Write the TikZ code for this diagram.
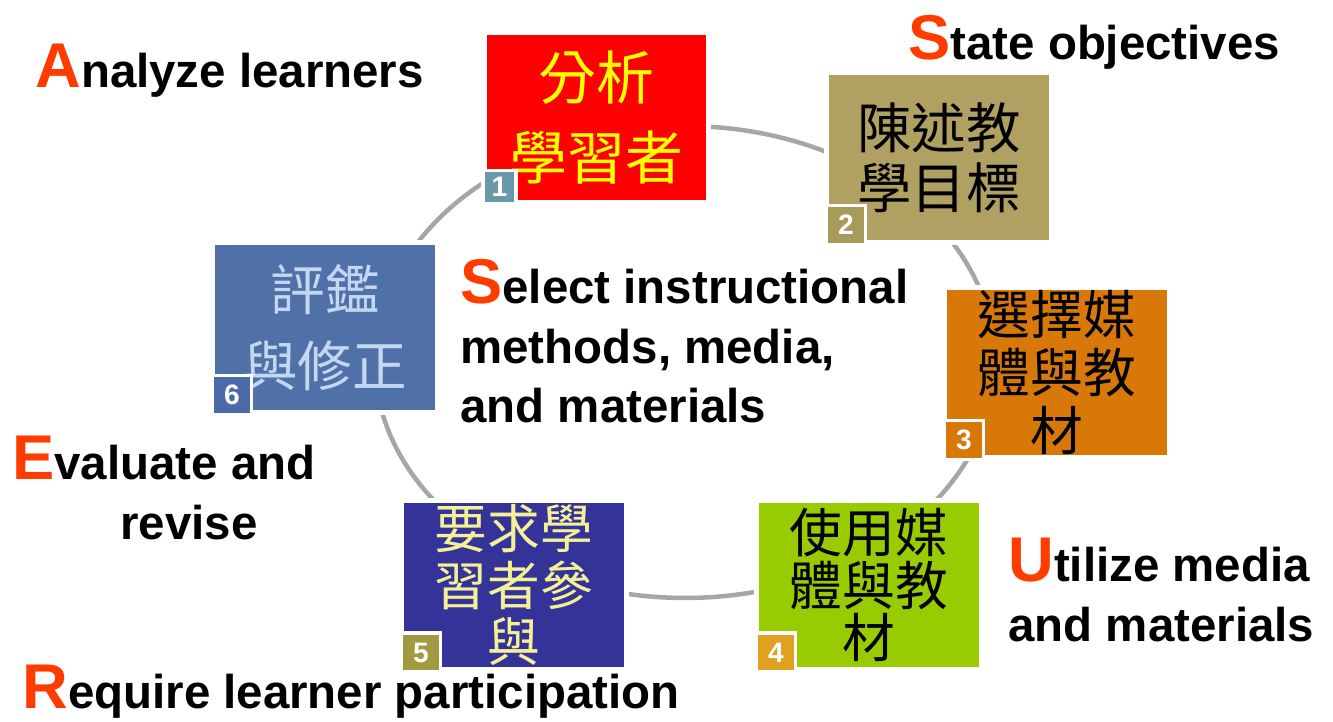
\documentclass[tikz,border=0pt]{standalone}
\usepackage{fontspec}
\setmainfont{Liberation Sans}
\newfontfamily\cjk{Noto Sans CJK TC}
\definecolor{initred}{RGB}{255,60,0}
\definecolor{ringgray}{RGB}{166,166,166}
\definecolor{boxred}{RGB}{255,0,0}
\definecolor{boxkhaki}{RGB}{176,160,98}
\definecolor{boxorange}{RGB}{216,120,8}
\definecolor{boxgreen}{RGB}{153,204,0}
\definecolor{boxnavy}{RGB}{51,51,153}
\definecolor{boxblue}{RGB}{80,112,168}
\definecolor{txtyellow}{RGB}{255,255,0}
\definecolor{txtcream}{RGB}{245,240,150}
\definecolor{txtlight}{RGB}{195,215,240}
\definecolor{badgeteal}{RGB}{106,154,170}
\definecolor{badgekhaki}{RGB}{168,154,90}
\definecolor{badgegold}{RGB}{224,160,32}
\definecolor{badgeolive}{RGB}{160,154,64}
\definecolor{badgeblue}{RGB}{74,106,168}
\newcommand{\firstletter}[1]{{\fontsize{36}{36}\selectfont\color{initred}#1}}

\begin{document}
\begin{tikzpicture}[x=0.02cm, y=-0.02cm,
    box/.style={rectangle, draw=white, line width=0.1cm, minimum width=4.5cm,
        minimum height=3.4cm, inner sep=0pt, align=center,
        font=\cjk\fontsize{31}{34}\selectfont},
    badge/.style={rectangle, draw=white, line width=0.07cm, minimum size=0.78cm,
        inner sep=0pt, text=white, font=\bfseries\fontsize{16}{16}\selectfont},
    phase/.style={inner sep=0pt, font=\bfseries\fontsize{27}{34}\selectfont}]
        \useasboundingbox (0,0) rectangle (1333,722);

        % the cycle
        \draw[ringgray, line width=0.09cm] (685,362) ellipse [x radius=6.2cm, y radius=4.72cm];

        % the six steps
        \node[box, fill=boxred, text=txtyellow, font=\cjk\fontsize{33}{46}\selectfont] (b1) at (596.5,117.5) {分析\\學習者};
        \node[box, fill=boxkhaki] (b2) at (939,157.5) {陳述教\\學目標};
        \node[box, fill=boxorange, font=\cjk\fontsize{30}{33}\selectfont] (b3) at (1057,372.5) {選擇媒\\體與教\\材};
        \node[box, fill=boxgreen, font=\cjk\fontsize{30}{30}\selectfont] (b4) at (869,585) {使用媒\\體與教\\材};
        \node[box, fill=boxnavy, text=txtcream, font=\cjk\fontsize{30}{32}\selectfont] (b5) at (514,585) {要求學\\習者參\\與};
        \node[box, fill=boxblue, text=txtlight, font=\cjk\fontsize{31}{43}\selectfont] (b6) at (325,327.5) {評鑑\\與修正};

        \node[badge, fill=badgeteal, minimum size=0.66cm] (n1) at ([shift={(18,-18)}]b1.south west) {1};
        \node[badge, fill=badgekhaki] (n2) at ([shift={(22,-20)}]b2.south west) {2};
        \node[badge, fill=boxorange] (n3) at ([shift={(22,-20)}]b3.south west) {3};
        \node[badge, fill=badgegold] (n4) at ([shift={(22,-20)}]b4.south west) {4};
        \node[badge, fill=badgeolive] (n5) at ([shift={(22,-20)}]b5.south west) {5};
        \node[badge, fill=badgeblue] (n6) at ([shift={(22,-20)}]b6.south west) {6};

        % ASSURE
        \node[phase, anchor=base west] (an) at (35,88) {\firstletter{A}nalyze learners};
        \node[phase, anchor=base west] (st) at (908,60) {\firstletter{S}tate objectives};
        \node[phase, anchor=north west, align=left] (se) at (460,259) {\firstletter{S}elect instructional\\methods, media,\\and materials};
        \node[phase, anchor=north west, align=left] (ut) at (1008,538) {\firstletter{U}tilize media\\and materials};
        \node[phase, anchor=base west] (re) at (22,709) {\firstletter{R}equire learner participation};
        \node[phase, anchor=north west, align=left] (ev) at (12,436) {\firstletter{E}valuate and\\\hspace*{2.16cm}revise};
\end{tikzpicture}
\end{document}
